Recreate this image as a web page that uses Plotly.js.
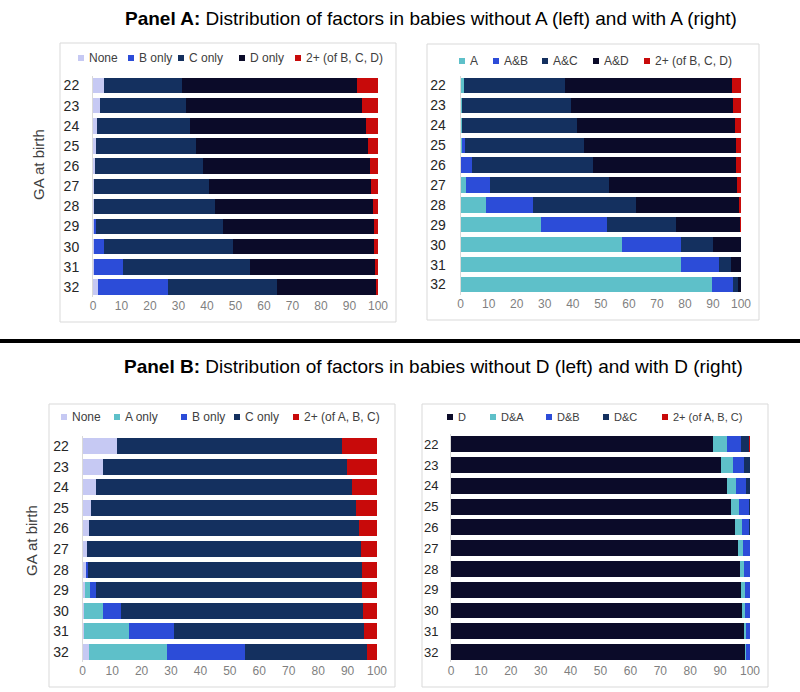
<!DOCTYPE html>
<html><head><meta charset="utf-8">
<script src="https://cdn.plot.ly/plotly-3.0.1.min.js"></script>
<style>body{margin:0;background:#fff}#chart{width:800px;height:692px}</style>
</head><body><div id="chart"></div>
<script>
// ---------- DATA ----------
const gaWeeks = ['22','23','24','25','26','27','28','29','30','31','32'];

// Panel A, left: babies without A
const aLeftNames = ['None','B only','C only','D only','2+ (of B, C, D)'];
const aLeftNone  = [3.9, 2.3, 1.4, 0.9, 0.6, 0.5, 0.5, 0.2, 0.3, 0.3, 1.8];
const aLeftB     = [0, 0, 0, 0, 0, 0, 0, 1.0, 3.5, 10.3, 24.6];
const aLeftC     = [27.5, 30.3, 32.8, 35.2, 37.9, 40.1, 42.3, 44.3, 45.4, 44.5, 38.1];
const aLeftD     = [61.4, 61.8, 61.5, 60.5, 58.8, 57.1, 55.3, 53.0, 49.5, 44.0, 34.9];
const aLeftMulti = [7.2, 5.6, 4.3, 3.4, 2.7, 2.3, 1.9, 1.5, 1.3, 0.9, 0.6];

// Panel A, right: babies with A
const aRightNames = ['A','A&B','A&C','A&D','2+ (of B, C, D)'];
const aRightA     = [1.0, 0.6, 0.5, 0.4, 0.2, 2.0, 8.9, 28.7, 57.4, 78.7, 89.5];
const aRightAB    = [0, 0, 0, 1.3, 3.8, 8.6, 16.8, 23.4, 21.1, 13.6, 7.8];
const aRightAC    = [36.3, 38.8, 41.1, 42.3, 43.3, 42.3, 36.7, 24.7, 11.4, 4.1, 1.5];
const aRightAD    = [59.5, 57.7, 56.1, 54.1, 51.0, 45.7, 36.8, 22.8, 10.0, 3.5, 1.2];
const aRightMulti = [3.2, 2.9, 2.3, 1.9, 1.7, 1.4, 0.8, 0.4, 0.1, 0.1, 0];

// Panel B, left: babies without D
const bLeftNames = ['None','A only','B only','C only','2+ (of A, B, C)'];
const bLeftNone  = [11.8, 7.0, 4.4, 2.9, 2.0, 1.5, 1.1, 0.7, 0.5, 0.5, 2.0];
const bLeftA     = [0, 0, 0, 0, 0, 0, 0, 1.7, 6.3, 15.2, 26.5];
const bLeftB     = [0, 0, 0, 0, 0, 0, 0.6, 2.1, 6.2, 15.2, 26.6];
const bLeftC     = [76.4, 82.9, 87.1, 89.9, 91.8, 93.1, 93.2, 90.5, 82.1, 64.7, 41.5];
const bLeftMulti = [11.8, 10.1, 8.5, 7.2, 6.2, 5.4, 5.1, 5.0, 4.9, 4.4, 3.4];

// Panel B, right: babies with D
const bRightNames = ['D','D&A','D&B','D&C','2+ (of A, B, C)'];
const bRightD     = [87.5, 90.3, 92.2, 93.8, 95.0, 95.9, 96.5, 97.1, 97.4, 97.9, 98.2];
const bRightDA    = [4.7, 3.9, 3.2, 2.6, 2.2, 1.8, 1.6, 1.2, 1.0, 0.8, 0.5];
const bRightDB    = [4.9, 3.9, 3.4, 3.2, 2.6, 2.2, 1.8, 1.6, 1.5, 1.2, 1.2];
const bRightDC    = [2.7, 1.9, 1.2, 0.4, 0.2, 0.1, 0.1, 0.1, 0.1, 0.1, 0.1];
const bRightMulti = [0.2, 0, 0, 0, 0, 0, 0, 0, 0, 0, 0];

const xTicks = [0,10,20,30,40,50,60,70,80,90,100];

// ---------- STYLE ----------
const C_NONE='#c6c9f3', C_A='#5ec0c9', C_B='#2c4cd8', C_C='#14305f', C_D='#0b0b29', C_RED='#c80a0a';
const W=800, H=692;
const X = px => px/W;
const Y = py => 1 - py/H;

const panels = [
  {names:aLeftNames, series:[aLeftNone,aLeftB,aLeftC,aLeftD,aLeftMulti], colors:[C_NONE,C_B,C_C,C_D,C_RED],
   ax:'', xdom:[93,378], ydom:[297,75.5], leg:[78,128,178,239,295], legY:58, legFont:12, frame:[60,43,396,322], tickFont:14, stand:10},
  {names:aRightNames, series:[aRightA,aRightAB,aRightAC,aRightAD,aRightMulti], colors:[C_A,C_B,C_C,C_D,C_RED],
   ax:'2', xdom:[460.7,741], ydom:[294.5,75.5], leg:[459,493,542,593,644], legY:61, legFont:12, frame:[427,44,759,320], tickFont:14, stand:11},
  {names:bLeftNames, series:[bLeftNone,bLeftA,bLeftB,bLeftC,bLeftMulti], colors:[C_NONE,C_A,C_B,C_C,C_RED],
   ax:'3', xdom:[82.7,377], ydom:[662.3,435.7], leg:[61,114,181,234,293], legY:417, legFont:12, frame:[49,404,395,687], tickFont:14, stand:10},
  {names:bRightNames, series:[bRightD,bRightDA,bRightDB,bRightDC,bRightMulti], colors:[C_D,C_A,C_B,C_C,C_RED],
   ax:'4', xdom:[451,750], ydom:[662.4,434], leg:[447,490,546,603,662], legY:417, legFont:11, frame:[422,404,768,687], tickFont:13, stand:9}
];

const traces = [];
const layout = {
  width:W, height:H, margin:{l:0,r:0,t:0,b:0},
  paper_bgcolor:'#fff', plot_bgcolor:'#fff',
  barmode:'stack', bargap:0.23, showlegend:false,
  font:{family:'Liberation Sans, Arial, sans-serif', color:'#262626'},
  shapes:[], annotations:[]
};

panels.forEach(p => {
  p.series.forEach((vals,i) => {
    traces.push({type:'bar', orientation:'h', name:p.names[i], x:vals, y:gaWeeks,
      xaxis:'x'+p.ax, yaxis:'y'+p.ax, marker:{color:p.colors[i], line:{width:0}},
      hovertemplate:'%{y}: %{x}%<extra>'+p.names[i]+'</extra>'});
  });
  layout['xaxis'+p.ax] = {domain:[X(p.xdom[0]),X(p.xdom[1])], anchor:'y'+p.ax, range:[0,100],
    tickvals:xTicks, ticktext:xTicks.map(String), showgrid:false, zeroline:false, showline:false,
    ticks:'', tickfont:{size:12,color:'#7f7f7f'}, fixedrange:true};
  layout['yaxis'+p.ax] = {domain:[Y(p.ydom[0]),Y(p.ydom[1])], anchor:'x'+p.ax, type:'category',
    range:[10.5,-0.5], showgrid:false, zeroline:false, showline:true, linecolor:'#d9d9d9', linewidth:1,
    ticks:'', ticklabelstandoff:p.stand, tickfont:{size:p.tickFont,color:'#262626'}, fixedrange:true};
  // panel frame
  layout.shapes.push({type:'rect', xref:'paper', yref:'paper', x0:X(p.frame[0]), x1:X(p.frame[2]),
    y0:Y(p.frame[3]), y1:Y(p.frame[1]), line:{color:'#d9d9d9', width:1}, fillcolor:'rgba(0,0,0,0)', layer:'below'});
  // legend
  p.names.forEach((n,i) => {
    const lx = p.leg[i];
    layout.shapes.push({type:'rect', xref:'paper', yref:'paper', x0:X(lx), x1:X(lx+6),
      y0:Y(p.legY+3), y1:Y(p.legY-3), line:{width:0}, fillcolor:p.colors[i]});
    layout.annotations.push({xref:'paper', yref:'paper', x:X(lx+8.5), y:Y(p.legY), xanchor:'left', yanchor:'middle',
      text:n, showarrow:false, font:{size:p.legFont, color:'#404040'}});
  });
});

// separator line
layout.shapes.push({type:'line', xref:'paper', yref:'paper', x0:0, x1:1, y0:Y(341), y1:Y(341), line:{color:'#000', width:4}});

// titles
const titleFont = {family:'Liberation Sans Narrow, Arial Narrow, Liberation Sans, Arial, sans-serif', size:19, color:'#000'};
layout.annotations.push({xref:'paper', yref:'paper', x:X(431), y:Y(18), xanchor:'center', yanchor:'middle', showarrow:false,
  text:'<b>Panel A:</b> Distribution of factors in babies without A (left) and with A (right)', font:titleFont});
layout.annotations.push({xref:'paper', yref:'paper', x:X(433), y:Y(366), xanchor:'center', yanchor:'middle', showarrow:false,
  text:'<b>Panel B:</b> Distribution of factors in babies without D (left) and with D (right)', font:titleFont});

// y-axis titles
layout.annotations.push({xref:'paper', yref:'paper', x:X(38), y:Y(165), xanchor:'center', yanchor:'middle', showarrow:false,
  text:'GA at birth', textangle:-90, font:{size:15, color:'#404040'}});
layout.annotations.push({xref:'paper', yref:'paper', x:X(31), y:Y(541), xanchor:'center', yanchor:'middle', showarrow:false,
  text:'GA at birth', textangle:-90, font:{size:15, color:'#404040'}});

Plotly.newPlot('chart', traces, layout, {displayModeBar:false, staticPlot:true});
</script>
</body></html>
